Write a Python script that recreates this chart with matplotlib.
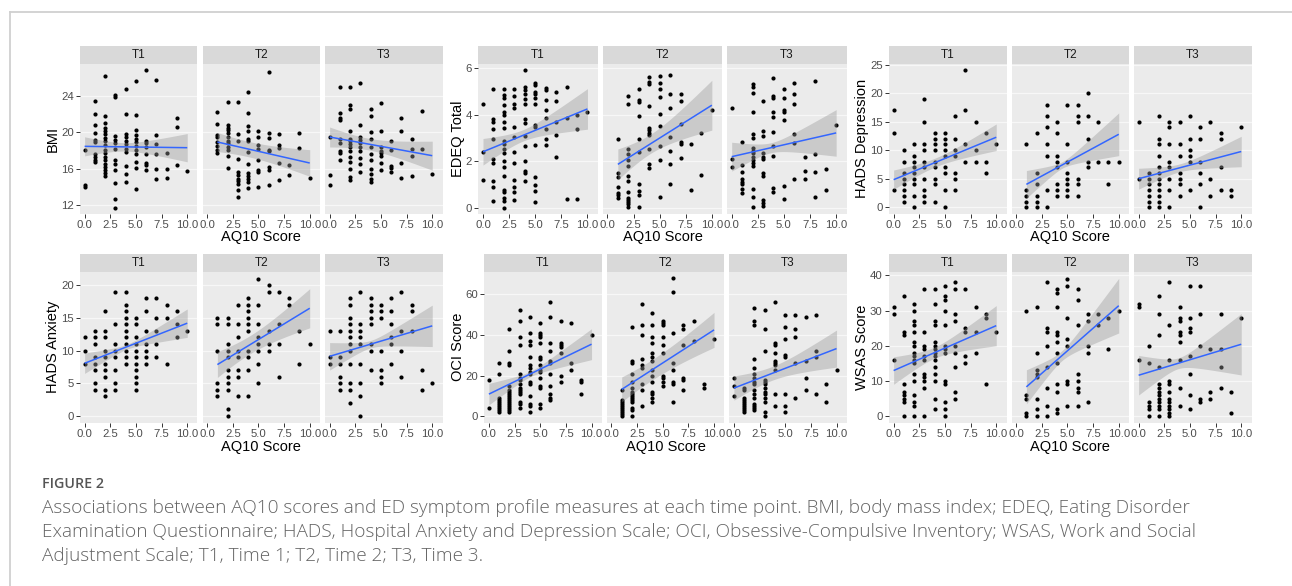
import numpy as np
import matplotlib
matplotlib.use("Agg")
import matplotlib.pyplot as plt
from matplotlib.lines import Line2D

# ---------------- data (AQ10 score -> list of measure values) ----------------
bmi_t1 = {0: [18.1, 14.2, 14.0],
          1: [23.5, 22.0, 20.8, 19.9, 19.2, 18.9, 17.6, 17.3, 17.0, 16.7],
          2: [26.2, 21.8, 21.0, 20.5, 20.1, 19.8, 19.4, 19.0, 18.6, 18.1, 17.7, 17.3, 16.9, 16.5, 16.2, 15.8, 15.5, 15.2],
          3: [24.1, 23.9, 19.6, 19.2, 18.8, 18.2, 17.0, 16.5, 15.9, 14.4, 12.6, 11.7],
          4: [24.8, 22.0, 19.8, 19.5, 19.1, 18.7, 18.2, 17.8, 16.3, 15.4, 14.5],
          5: [25.7, 21.9, 20.3, 19.7, 19.3, 18.9, 18.5, 18.1, 17.6, 16.7, 16.1, 13.8],
          6: [26.9, 19.1, 18.8, 18.4, 17.6, 16.6, 16.4, 15.9],
          7: [25.8, 19.7, 18.7, 17.6, 16.0, 14.9],
          8: [17.7, 16.0, 15.0],
          9: [21.6, 20.6, 16.4],
          10: [15.7]}
bmi_t2 = {1: [22.2, 20.9, 19.7, 19.5, 18.9, 18.5, 18.1, 17.7],
          2: [23.4, 20.8, 20.5, 20.3, 19.9, 19.5, 19.1, 18.8, 18.4, 18.1, 17.4, 16.1],
          3: [23.3, 19.8, 19.1, 17.1, 15.6, 15.3, 14.9, 14.6, 14.3, 13.6, 12.9],
          4: [24.5, 22.1, 20.7, 20.1, 19.3, 19.0, 17.8, 16.5, 15.5, 15.2, 14.9, 14.5, 13.9],
          5: [20.1, 19.5, 18.6, 18.2, 16.9, 15.9, 15.6, 14.0],
          6: [26.7, 19.9, 19.4, 18.1, 17.9, 16.2, 15.9, 14.2],
          7: [19.8, 18.6, 18.3, 16.6, 14.8],
          8: [16.4, 15.3],
          9: [19.9, 18.3],
          10: [15.0]}
bmi_t3 = {0: [19.5, 15.3, 14.2],
          1: [25.0, 22.1, 21.6, 21.4, 19.3, 18.8, 17.9, 17.7, 16.9],
          2: [25.0, 23.0, 22.6, 20.1, 19.3, 19.0, 18.7, 18.4, 18.0, 17.3, 16.7, 16.0, 15.1, 14.7],
          3: [25.5, 20.8, 19.5, 19.2, 18.8, 18.4, 18.0, 17.2, 16.5, 15.6],
          4: [22.6, 21.8, 20.0, 19.3, 18.4, 17.6, 16.9, 16.0, 15.4, 14.9, 14.5],
          5: [23.2, 20.2, 18.4, 18.0, 17.7, 17.4, 16.6, 15.9],
          6: [19.0, 18.1, 16.3, 16.1, 15.6],
          7: [21.6, 20.2, 16.6, 15.0],
          8: [19.3, 18.2, 17.4, 15.2],
          9: [22.4, 18.2],
          10: [15.4]}

edeq_t1 = {0: [4.43, 2.37, 1.17],
           1: [5.11, 3.81, 3.67, 3.36, 2.94, 2.11, 1.93, 1.14, 0.89, 0.29],
           2: [5.09, 4.83, 4.69, 4.40, 4.09, 3.97, 3.69, 3.43, 2.86, 2.73, 2.51, 2.33, 2.00, 1.76, 1.36, 0.77, 0.66, 0.40, 0.27, 0.00],
           3: [5.11, 4.79, 4.44, 4.26, 3.46, 3.03, 2.40, 1.93, 1.17, 0.90, 0.67, 0.31],
           4: [5.90, 5.19, 5.04, 4.90, 4.67, 4.43, 3.79, 3.64, 3.09, 2.64, 1.99, 1.56, 1.47, 1.13],
           5: [5.34, 5.27, 4.97, 4.86, 4.73, 4.44, 3.54, 3.46, 2.69, 1.31, 0.99, 0.70, 0.26],
           6: [5.13, 5.04, 4.64, 4.21, 3.87, 3.37, 2.94, 2.69],
           7: [4.97, 4.59, 3.66, 3.11, 2.16],
           8: [5.16, 3.87, 0.36],
           9: [4.00, 3.37, 0.36],
           10: [4.11]}
edeq_t2 = {1: [2.97, 1.50, 1.33, 0.90, 0.64, 0.54, 0.41],
           2: [4.80, 4.43, 2.53, 2.30, 2.04, 1.80, 1.36, 1.14, 0.66, 0.40, 0.31, 0.24, 0.16, 0.01],
           3: [5.11, 4.64, 4.53, 3.93, 2.93, 2.40, 1.01, 0.71, 0.53, 0.04],
           4: [5.61, 5.40, 5.30, 4.36, 3.44, 3.33, 3.21, 3.11, 2.50, 1.87, 1.69],
           5: [5.66, 5.37, 5.11, 4.76, 4.01, 3.51, 2.66, 2.04, 0.44],
           6: [5.71, 4.86, 4.29, 3.04, 2.43, 1.86, 1.00],
           7: [4.87, 4.59, 3.60, 2.83, 2.73, 2.14],
           8: [2.73, 0.77],
           9: [3.19, 1.40],
           10: [4.20]}
edeq_t3 = {0: [4.26, 2.07, 1.76],
           1: [2.80, 1.83, 1.54, 1.21, 1.11, 1.00, 0.79, 0.64],
           2: [5.29, 5.19, 4.94, 4.09, 3.16, 3.01, 2.56, 2.44, 2.33, 2.19, 2.04, 1.90, 1.80, 0.79, 0.47, 0.01],
           3: [4.57, 3.30, 3.07, 2.33, 2.19, 2.07, 1.47, 1.36, 0.33, 0.21, 0.07],
           4: [5.56, 4.80, 4.73, 4.09, 3.90, 3.26, 2.66, 2.23, 0.86, 0.66],
           5: [5.11, 4.71, 4.19, 4.09, 3.76, 0.94, 0.37],
           6: [5.37, 4.86, 4.43, 3.16, 2.79, 1.21],
           7: [2.16, 1.59, 1.21],
           8: [5.46, 2.31, 1.54, 0.47],
           9: [1.67, 0.76],
           10: [3.53]}

hdep_t1 = {0: [17, 13, 3],
           1: [10, 8, 6, 5, 4, 3, 2, 1],
           2: [11, 9, 8, 7, 6, 5, 4, 2, 0],
           3: [19, 15, 11, 10, 8, 7, 5, 3, 2, 1],
           4: [13, 12, 11, 10, 8, 7, 5, 4, 1],
           5: [13, 12, 11, 10, 9, 7, 6, 3, 0],
           6: [16, 12, 10, 9, 6, 5, 3],
           7: [24, 17, 11, 8],
           8: [15, 10, 8],
           9: [13, 8, 6],
           10: [11]}
hdep_t2 = {1: [11, 3, 2, 1, 0],
           2: [13, 6, 4, 2, 1, 0],
           3: [18, 16, 14, 11, 9, 3, 0],
           4: [15, 13, 9, 8, 7, 4, 3, 2],
           5: [18, 11, 8, 6, 5, 4, 3, 2],
           6: [18, 16, 15, 5, 4, 2],
           7: [20, 16, 12, 8, 7],
           8: [15, 8],
           9: [8, 4],
           10: [8]}
hdep_t3 = {0: [15, 5],
           1: [6, 5, 4, 3, 2, 1, 0],
           2: [16, 12, 11, 9, 7, 6, 5, 4, 3, 2, 1, 0],
           3: [15, 14, 11, 8, 7, 5, 3, 0],
           4: [15, 11, 9, 6, 5, 4, 2],
           5: [16, 12, 10, 9, 8, 3],
           6: [14, 12, 8, 6, 4, 0],
           7: [15, 5, 2],
           8: [13, 12, 7, 3],
           9: [3, 2],
           10: [14]}

hanx_t1 = {0: [12, 10, 8],
           1: [13, 12, 11, 9, 8, 7, 5, 4],
           2: [16, 13, 12, 10, 9, 8, 7, 6, 4, 3],
           3: [19, 14, 11, 10, 9, 7, 5, 4],
           4: [19, 17, 16, 15, 14, 13, 12, 11, 10, 9, 8],
           5: [15, 14, 12, 11, 10, 9, 8, 7, 6, 5, 4],
           6: [18, 16, 13, 11, 10, 9, 8],
           7: [18, 15, 13, 11, 9],
           8: [17, 15, 8],
           9: [16, 14, 12],
           10: [13]}
hanx_t2 = {1: [15, 14, 10, 5, 4, 3],
           2: [15, 14, 11, 10, 9, 7, 6, 5, 4, 1, 0],
           3: [17, 14, 12, 10, 9, 7, 6, 3],
           4: [18, 17, 16, 15, 14, 13, 10, 9, 7, 3],
           5: [21, 17, 14, 12, 11, 10, 8, 5],
           6: [20, 19, 13, 11, 10],
           7: [19, 14, 11, 6],
           8: [18, 17],
           9: [13, 8],
           10: [11]}
hanx_t3 = {0: [13, 9, 8],
           1: [13, 9, 8, 6, 5, 4],
           2: [18, 17, 15, 14, 13, 12, 11, 10, 8, 5, 4, 2],
           3: [19, 14, 13, 12, 11, 8, 5, 3, 0],
           4: [18, 17, 16, 15, 14, 11, 10, 7],
           5: [17, 16, 15, 10, 7, 6, 5],
           6: [18, 16, 14, 12, 11, 8],
           7: [19, 13, 10, 6],
           8: [17, 16, 13],
           9: [7, 4],
           10: [5]}

oci_t1 = {0: [18, 4],
          1: [26, 21, 9, 8, 7, 6, 5, 4, 3, 2],
          2: [43, 32, 26, 25, 15, 13, 12, 11, 10, 9, 8, 7, 6, 5, 4, 3, 2],
          3: [52, 47, 39, 35, 21, 19, 18, 16, 14, 13, 12, 11, 7, 6, 4],
          4: [49, 41, 37, 35, 29, 25, 24, 22, 21, 17, 16, 10, 6, 5, 2],
          5: [46, 41, 40, 39, 36, 29, 28, 25, 23, 22, 19, 15, 14, 6, 4],
          6: [56, 49, 36, 32, 27, 26, 21, 15, 11, 9, 8],
          7: [47, 36, 35, 34, 31, 20, 17],
          8: [46, 26, 23],
          9: [18, 17, 11],
          10: [40]}
oci_t2 = {1: [13, 8, 7, 6, 5, 4, 3, 2, 1, 0],
          2: [44, 27, 26, 21, 17, 14, 12, 11, 10, 9, 8, 7, 4, 3, 0],
          3: [55, 45, 40, 28, 25, 24, 16, 13, 5],
          4: [51, 45, 39, 36, 31, 29, 27, 23, 20, 17, 12, 11, 9, 7],
          5: [47, 46, 45, 39, 35, 31, 20, 19, 17, 15],
          6: [68, 61, 41, 26, 23, 17, 16, 7],
          7: [45, 43, 35, 19, 18, 13],
          8: [47, 37],
          9: [16, 14],
          10: [38]}
oci_t3 = {0: [19, 15, 10],
          1: [14, 13, 9, 8, 7, 6, 5, 4, 3, 2],
          2: [53, 47, 45, 28, 24, 21, 19, 17, 16, 13, 11, 9, 6, 5, 4, 3],
          3: [52, 43, 32, 18, 17, 16, 14, 12, 11, 9, 7, 2, 0],
          4: [56, 36, 35, 31, 27, 26, 25, 23, 11, 5],
          5: [50, 44, 38, 30, 29, 11, 5, 2],
          6: [50, 43, 39, 26, 9],
          7: [49, 27, 19, 13],
          8: [50, 32, 29, 11],
          9: [16, 7],
          10: [23]}

wsas_t1 = {0: [31, 29, 16],
           1: [34, 24, 23, 9, 7, 6, 5, 4, 0],
           2: [32, 30, 27, 26, 24, 21, 20, 18, 17, 16, 15, 12, 10, 6, 4, 3, 0],
           3: [36, 24, 20, 19, 17, 16, 12, 11, 10, 8, 0],
           4: [36, 32, 27, 26, 21, 20, 19, 18, 17, 16, 14, 12, 10, 5, 2],
           5: [37, 34, 33, 30, 26, 20, 19, 18, 10, 9, 4, 2, 0],
           6: [38, 36, 29, 27, 20, 18, 14, 7, 5],
           7: [36, 25, 24, 17, 15],
           8: [31, 24, 18],
           9: [29, 28, 9],
           10: [24]}
wsas_t2 = {1: [30, 6, 5, 1, 0],
           2: [31, 18, 13, 12, 11, 5, 2, 0],
           3: [38, 25, 24, 20, 14, 8, 3, 0],
           4: [36, 35, 31, 24, 23, 21, 18, 15, 9, 7, 2, 1],
           5: [39, 37, 28, 22, 20, 10, 9, 3],
           6: [36, 33, 26, 12, 10, 8, 7, 3],
           7: [29, 27, 20, 18, 4],
           8: [29, 26],
           9: [28, 19],
           10: [30]}
wsas_t3 = {0: [32, 31, 16],
           1: [20, 15, 4, 3, 2, 0],
           2: [34, 29, 23, 14, 9, 8, 7, 6, 5, 4, 3, 2, 0],
           3: [38, 26, 16, 10, 9, 7, 5, 4, 3, 2, 1, 0],
           4: [31, 28, 27, 24, 23, 21, 16, 8, 3],
           5: [37, 28, 25, 24, 17, 12, 6, 2],
           6: [37, 29, 20, 5, 4],
           7: [19, 7, 5],
           8: [29, 19, 14, 8],
           9: [7, 1],
           10: [28]}

# fitted linear trend (geom_smooth, method = "lm"), per T1/T2/T3:
# value at the lowest and highest AQ10 score, and 95% CI half-width there
bmi_fit_lo = [18.46, 18.94, 19.49]
bmi_fit_hi = [18.31, 16.62, 17.43]
bmi_ci_lo = [1.05, 1.05, 1.10]
bmi_ci_hi = [1.56, 1.47, 1.60]
edeq_fit_lo = [2.40, 1.86, 2.19]
edeq_fit_hi = [4.24, 4.40, 3.21]
edeq_ci_lo = [0.57, 0.66, 0.62]
edeq_ci_hi = [0.87, 1.07, 1.00]
hdep_fit_lo = [4.83, 4.01, 5.00]
hdep_fit_hi = [12.27, 12.79, 9.77]
hdep_ci_lo = [1.69, 1.90, 1.83]
hdep_ci_hi = [2.33, 3.43, 2.67]
hanx_fit_lo = [8.05, 7.85, 9.11]
hanx_fit_hi = [14.18, 16.46, 13.77]
hanx_ci_lo = [1.27, 1.97, 1.90]
hanx_ci_hi = [1.98, 2.99, 3.04]
oci_fit_lo = [10.95, 13.24, 13.90]
oci_fit_hi = [35.46, 42.48, 33.30]
oci_ci_lo = [4.50, 6.10, 5.95]
oci_ci_hi = [7.10, 8.60, 9.10]
wsas_fit_lo = [12.96, 8.32, 11.63]
wsas_fit_hi = [25.72, 31.39, 20.43]
wsas_ci_lo = [3.90, 4.70, 5.10]
wsas_ci_hi = [5.70, 7.66, 8.40]

time_labels = ["T1", "T2", "T3"]
x_ticks = [0.0, 2.5, 5.0, 7.5, 10.0]
x_tick_labels = ["0.0", "2.5", "5.0", "7.5", "10.0"]
x_title = "AQ10 Score"
measure_names = ["BMI", "EDEQ Total", "HADS Depression", "HADS Anxiety", "OCI Score", "WSAS Score"]
measure_data = [[bmi_t1, bmi_t2, bmi_t3], [edeq_t1, edeq_t2, edeq_t3],
                [hdep_t1, hdep_t2, hdep_t3], [hanx_t1, hanx_t2, hanx_t3],
                [oci_t1, oci_t2, oci_t3], [wsas_t1, wsas_t2, wsas_t3]]
measure_fits = [(bmi_fit_lo, bmi_fit_hi, bmi_ci_lo, bmi_ci_hi),
                (edeq_fit_lo, edeq_fit_hi, edeq_ci_lo, edeq_ci_hi),
                (hdep_fit_lo, hdep_fit_hi, hdep_ci_lo, hdep_ci_hi),
                (hanx_fit_lo, hanx_fit_hi, hanx_ci_lo, hanx_ci_hi),
                (oci_fit_lo, oci_fit_hi, oci_ci_lo, oci_ci_hi),
                (wsas_fit_lo, wsas_fit_hi, wsas_ci_lo, wsas_ci_hi)]
measure_yticks = [[12, 16, 20, 24], [0, 2, 4, 6], [0, 5, 10, 15, 20, 25],
                  [0, 5, 10, 15, 20], [0, 20, 40, 60], [0, 10, 20, 30, 40]]

caption_head = "FIGURE 2"
caption_lines = [
    "Associations between AQ10 scores and ED symptom profile measures at each time point. BMI, body mass index; EDEQ, Eating Disorder",
    "Examination Questionnaire; HADS, Hospital Anxiety and Depression Scale; OCI, Obsessive-Compulsive Inventory; WSAS, Work and Social",
    "Adjustment Scale; T1, Time 1; T2, Time 2; T3, Time 3.",
]

# ---------------- layout (pixels) ----------------
W, H = 1292, 586
fig = plt.figure(figsize=(W / 100, H / 100), dpi=100)
fig.patch.set_facecolor("white")


def rect(x0, y0, x1, y1):
    return [x0 / W, 1 - y1 / H, (x1 - x0) / W, (y1 - y0) / H]


rows = [dict(strip_top=45.5, strip_bot=63.5, bot=213.5, xtitle=237.5),
        dict(strip_top=254.0, strip_bot=272.0, bot=422.5, xtitle=447.0)]
layout = [
    dict(row=0, lefts=[80.0, 202.5, 325.0], w=117.5, ylab_x=53, ylim=(11.05, 27.6)),
    dict(row=0, lefts=[478.3, 602.7, 727.0], w=119.6, ylab_x=458, ylim=(-0.25, 6.19)),
    dict(row=0, lefts=[889.0, 1011.5, 1134.0], w=117.5, ylab_x=862, ylim=(-1.1, 25.2)),
    dict(row=1, lefts=[80.0, 202.5, 325.0], w=117.5, ylab_x=53, ylim=(-1.0, 22.0)),
    dict(row=1, lefts=[484.3, 606.8, 729.3], w=117.5, ylab_x=458, ylim=(-3.0, 70.9)),
    dict(row=1, lefts=[889.0, 1011.5, 1134.0], w=117.5, ylab_x=862, ylim=(-1.8, 40.96)),
]
XLIM = (-0.45, 11.0)

PANEL_BG = "#EBEBEB"
STRIP_BG = "#D9D9D9"
GRID = "#F7F7F7"
TICK_COL = "#333333"
LABEL_COL = "#4D4D4D"
FONT = ["Liberation Sans", "DejaVu Sans"]


def band_halfwidth(gx, xmin, xmax, xc, h1, h2):
    d1, d2 = (xmin - xc) ** 2, (xmax - xc) ** 2
    c = (h2 ** 2 - h1 ** 2) / (d2 - d1)
    a = h1 ** 2 - c * d1
    a = max(a, (0.3 * min(h1, h2)) ** 2)
    c = max(c, 0.0)
    return np.sqrt(a + c * (gx - xc) ** 2)


for m, (name, panels, fits, yt, lay) in enumerate(
        zip(measure_names, measure_data, measure_fits, measure_yticks, layout)):
    r = rows[lay["row"]]
    f_lo, f_hi, c_lo, c_hi = fits
    for k, pdata in enumerate(panels):
        x0 = lay["lefts"][k]
        x1 = x0 + lay["w"]
        ax = fig.add_axes(rect(x0, r["strip_bot"], x1, r["bot"]))
        ax.set_facecolor(PANEL_BG)
        for s in ax.spines.values():
            s.set_visible(False)
        xs = np.concatenate([[float(a)] * len(v) for a, v in pdata.items()])
        ys = np.concatenate([np.asarray(v, float) for v in pdata.values()])
        ax.scatter(xs, ys, s=9, color="black", linewidths=0, zorder=3)
        # linear trend with 95% CI band
        xmin, xmax = xs.min(), xs.max()
        gx = np.linspace(xmin, xmax, 100)
        gy = f_lo[k] + (f_hi[k] - f_lo[k]) * (gx - xmin) / (xmax - xmin)
        hw = band_halfwidth(gx, xmin, xmax, xs.mean(), c_lo[k], c_hi[k])
        ax.fill_between(gx, gy - hw, gy + hw, color="#999999", alpha=0.4,
                        linewidth=0, zorder=4)
        ax.plot(gx, gy, color="#3366FF", lw=1.1, zorder=5, solid_capstyle="butt")
        ax.set_xlim(*XLIM)
        ax.set_ylim(*lay["ylim"])
        ax.set_xticks(x_ticks)
        ax.set_xticklabels(x_tick_labels)
        ax.set_yticks(yt)
        ax.yaxis.grid(True, color=GRID, lw=0.9, zorder=0)
        ax.xaxis.grid(False)
        ax.set_axisbelow(True)
        ax.tick_params(axis="both", length=3, width=0.7, color=TICK_COL,
                       labelcolor=LABEL_COL, labelsize=8.2, pad=1.5)
        for lab in ax.get_xticklabels() + ax.get_yticklabels():
            lab.set_fontfamily(FONT)
        if k > 0:
            ax.tick_params(axis="y", left=False, labelleft=False)
        else:
            ax.set_yticklabels([str(v) for v in yt])
            for lab in ax.get_yticklabels():
                lab.set_fontfamily(FONT)
        # strip
        sax = fig.add_axes(rect(x0, r["strip_top"], x1, r["strip_bot"]))
        sax.set_facecolor(STRIP_BG)
        sax.set_xticks([])
        sax.set_yticks([])
        for s in sax.spines.values():
            s.set_visible(False)
        sax.text(0.5, 0.5, time_labels[k], ha="center", va="center", fontsize=8.5,
                 color="#1A1A1A", family=FONT, transform=sax.transAxes)
    left = lay["lefts"][0]
    right = lay["lefts"][2] + lay["w"]
    fig.text((left + right) / 2 / W, 1 - r["xtitle"] / H, x_title, ha="center", va="center",
             fontsize=10.5, color="black", family=FONT)
    fig.text(lay["ylab_x"] / W, 1 - (r["strip_bot"] + r["bot"]) / 2 / H, name, ha="center",
             va="center", rotation=90, fontsize=10.5, color="black", family=FONT)

# frame lines
fig.add_artist(Line2D([10 / W, 1.0], [1 - 12 / H, 1 - 12 / H], color="#D0D0D0", lw=1.3,
                      transform=fig.transFigure))
fig.add_artist(Line2D([10 / W, 10 / W], [1 - 12 / H, 0.0], color="#D0D0D0", lw=1.3,
                      transform=fig.transFigure))

# caption
CAP_FONT = ["Open Sans", "DejaVu Sans"]
fig.text(42 / W, 1 - 483.5 / H, caption_head, ha="left", va="center", fontsize=10.3,
         fontweight="semibold", color="#555555", family=CAP_FONT)
for i, line in enumerate(caption_lines):
    fig.text(42 / W, 1 - (508 + 24 * i) / H, line, ha="left", va="center", fontsize=13.65,
             fontweight="light", color="#646464", family=CAP_FONT)

fig.savefig("out.png", dpi=100, facecolor="white")
